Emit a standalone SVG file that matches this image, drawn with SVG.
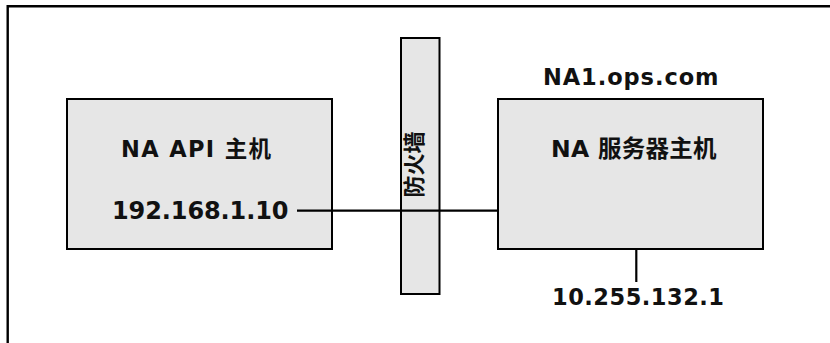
<svg xmlns="http://www.w3.org/2000/svg" width="830" height="343" viewBox="0 0 830 343">
<style>
.box{fill:#e6e6e6;stroke:#000;stroke-width:2}
.lbl{font-family:"DejaVu Sans","Noto Sans CJK SC",sans-serif;font-weight:bold;fill:#111}
.cn{font-family:"Noto Sans CJK SC",sans-serif;font-weight:bold;font-size:22px;fill:#111}
.wire{stroke:#000;stroke-width:2.2;fill:none}
</style>
<rect width="830" height="343" fill="#fff"/>
<path d="M7.7 343V6.2H830" fill="none" stroke="#000" stroke-width="2.4"/>
<g id="api-host">
<rect class="box" x="67" y="99" width="265" height="150"/>
<text class="lbl" x="121" y="157.3" font-size="22.5" textLength="150" lengthAdjust="spacing">NA API 主机</text>
<text class="lbl" x="112" y="218.5" font-size="24" textLength="176.5" lengthAdjust="spacing">192.168.1.10</text>
</g>
<g id="firewall">
<rect class="box" x="401" y="38" width="38.5" height="256"/>
<text class="cn" transform="translate(421.5,164.5) rotate(-90)" text-anchor="middle">防火墙</text>
</g>
<g id="server-host">
<text class="lbl" x="543" y="85" font-size="22.5" textLength="175.5" lengthAdjust="spacing">NA1.ops.com</text>
<rect class="box" x="498" y="99" width="265" height="150"/>
<text class="lbl" x="551" y="157.3" font-size="23.5" textLength="165.5" lengthAdjust="spacing">NA 服务器主机</text>
</g>
<g id="server-ip">
<text class="lbl" x="552" y="305" font-size="22.5" textLength="172" lengthAdjust="spacing">10.255.132.1</text>
</g>
<g id="connectors">
<line class="wire" x1="297" y1="210.7" x2="499" y2="210.7"/>
<line class="wire" x1="636.3" y1="249" x2="636.3" y2="282"/>
</g>
</svg>
